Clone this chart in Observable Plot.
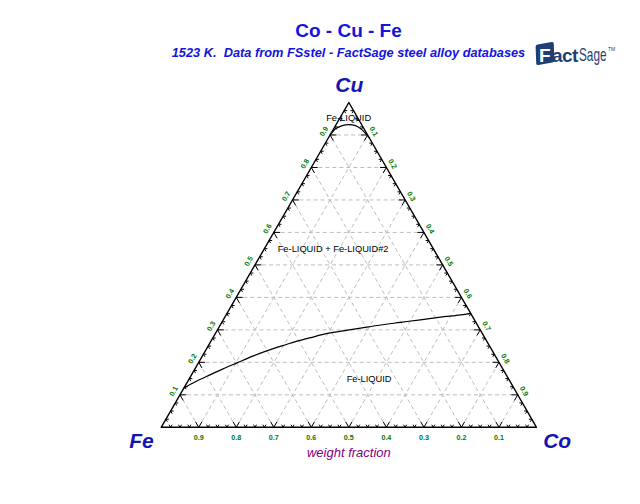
<!DOCTYPE html>
<html>
<head>
<meta charset="utf-8">
<script src="https://cdn.jsdelivr.net/npm/d3@7"></script>
<script src="https://cdn.jsdelivr.net/npm/@observablehq/plot@0.6"></script>
<style>
  html, body { margin: 0; padding: 0; background: #fff; }
  body { width: 640px; height: 504px; overflow: hidden; font-family: Arial, "Liberation Sans", sans-serif; position: relative; }
  #head { position: relative; height: 70px; }
  #title { position: absolute; left: 348.5px; top: 21px; transform: translateX(-50%); white-space: nowrap;
           font: bold 19px/19px Arial, "Liberation Sans", sans-serif; color: #1414e0; }
  #sub { position: absolute; left: 348.5px; top: 47px; transform: translateX(-50%); white-space: pre;
         font: italic bold 12.8px/12px Arial, "Liberation Sans", sans-serif; color: #1414e0; }
  #logo { position: absolute; left: 536px; top: 40px; width: 90px; height: 32px; }
  #logo .sq { position: absolute; left: 0px; top: 3px; width: 18px; height: 21px; background: #1f3f73;
              transform: skewX(-8deg) rotate(-10deg); border-radius: 2px; }
  #logo .f { position: absolute; left: 3px; top: 6px; font: bold 19px/19px Arial, sans-serif; color: #fff; }
  #logo .act { position: absolute; left: 16px; top: 6px; font: bold 19px/19px Arial, sans-serif; color: #1f3f73; letter-spacing: -0.6px; }
  #logo .sage { position: absolute; left: 43px; top: 5px; font: 19px/19px Arial, sans-serif; color: #1f3f73;
                transform: scaleX(0.62); transform-origin: 0 0; }
  #logo .tm { position: absolute; left: 72px; top: 7px; font: 5px/5px Arial, sans-serif; color: #1f3f73; }
</style>
</head>
<body>
<div id="head">
  <div id="title">Co - Cu - Fe</div>
  <div id="sub">1523 K.  Data from FSstel - FactSage steel alloy databases</div>
  <div id="logo"><div class="sq"></div><span class="f">F</span><span class="act">act</span><span class="sage">Sage</span><span class="tm">TM</span></div>
</div>
<div id="chart"></div>
<script>
// ---- data (weight fractions) ----
const components = ["Fe", "Co", "Cu"];
const vertexCo = [0, 1, 0];
const vertexCu = [0, 0, 1];

const majorValues = [0.1, 0.2, 0.3, 0.4, 0.5, 0.6, 0.7, 0.8, 0.9];
const tickLabels = ["0.1", "0.2", "0.3", "0.4", "0.5", "0.6", "0.7", "0.8", "0.9"];
const minorValues = d3.range(1, 40).map(i => i / 40).filter((v, i) => (i + 1) % 4 !== 0);

// lower boundary of the Fe-LIQUID + Fe-LIQUID#2 miscibility gap
const lowerCo = [0.000, 0.021, 0.046, 0.074, 0.104, 0.134, 0.159, 0.185, 0.206, 0.224, 0.260, 0.299, 0.347, 0.386, 0.427, 0.476, 0.525, 0.575, 0.625, 0.649];
const lowerCu = [0.121, 0.140, 0.159, 0.179, 0.199, 0.219, 0.233, 0.246, 0.255, 0.263, 0.276, 0.289, 0.299, 0.307, 0.315, 0.323, 0.331, 0.339, 0.346, 0.351];

// upper boundary (Cu-rich liquid)
const upperCo = [0.000, 0.005, 0.018, 0.034, 0.053, 0.071, 0.092, 0.109];
const upperCu = [0.901, 0.919, 0.929, 0.932, 0.929, 0.920, 0.905, 0.891];

const phaseNames = ["Fe-LIQUID", "Fe-LIQUID + Fe-LIQUID#2", "Fe-LIQUID"];
const phaseCo = [0.023, 0.183, 0.480];
const phaseCu = [0.953, 0.550, 0.148];

// ---- ternary helpers ----
const SQ = Math.sqrt(3) / 2;
const tx = (co, cu) => co + cu / 2;
const ty = (co, cu) => cu * SQ;

const vertices = components.map((name, i) => ({name, x: tx(vertexCo[i], vertexCu[i]), y: ty(vertexCo[i], vertexCu[i])}));
const outline = [vertices[0], vertices[1], vertices[2], vertices[0]];

const grid = [];
for (const v of majorValues) {
  grid.push({x1: tx(0, v), y1: ty(0, v), x2: tx(1 - v, v), y2: ty(1 - v, v)});          // const Cu
  grid.push({x1: tx(v, 0), y1: ty(v, 0), x2: tx(v, 1 - v), y2: ty(v, 1 - v)});          // const Co
  grid.push({x1: tx(1 - v, 0), y1: ty(1 - v, 0), x2: tx(0, 1 - v), y2: ty(0, 1 - v)});  // const Fe
}

function edgeTicks(values, len) {
  const out = [];
  for (const v of values) {
    let px = tx(v, 0), py = ty(v, 0);            // bottom edge (Cu = 0)
    out.push({x1: px, y1: py, x2: px + 0.5 * len, y2: py + SQ * len});
    out.push({x1: px, y1: py, x2: px - 0.5 * len, y2: py + SQ * len});
    px = tx(0, v); py = ty(0, v);                // left edge (Co = 0)
    out.push({x1: px, y1: py, x2: px + len, y2: py});
    out.push({x1: px, y1: py, x2: px + 0.5 * len, y2: py - SQ * len});
    px = tx(v, 1 - v); py = ty(v, 1 - v);        // right edge (Fe = 0)
    out.push({x1: px, y1: py, x2: px - len, y2: py});
    out.push({x1: px, y1: py, x2: px - 0.5 * len, y2: py - SQ * len});
  }
  return out;
}
const ticks = edgeTicks(majorValues, 0.017).concat(edgeTicks(minorValues, 0.008));

const bottomLabels = majorValues.map((fe, i) => ({x: tx(1 - fe, 0), y: 0, t: tickLabels[i]}));
const leftLabels = majorValues.map((cu, i) => ({x: tx(0, cu), y: ty(0, cu), t: tickLabels[i]}));
const rightLabels = majorValues.map((co, i) => ({x: tx(co, 1 - co), y: ty(co, 1 - co), t: tickLabels[i]}));

const lower = lowerCo.map((co, i) => ({x: tx(co, lowerCu[i]), y: ty(co, lowerCu[i])}));
const upper = upperCo.map((co, i) => ({x: tx(co, upperCu[i]), y: ty(co, upperCu[i])}));
const phases = phaseNames.map((n, i) => ({n, x: tx(phaseCo[i], phaseCu[i]), y: ty(phaseCo[i], phaseCu[i])}));

const green = "#007a00";
const cornerColor = "#1515b5";
const font = "Arial, 'Liberation Sans', sans-serif";

const chart = Plot.plot({
  width: 640,
  height: 434,
  marginLeft: 160.7,
  marginRight: 104,
  marginTop: 32,
  marginBottom: 77.2,
  x: {domain: [0, 1], axis: null},
  y: {domain: [0, SQ], axis: null},
  style: {background: "white", fontFamily: font, overflow: "visible"},
  marks: [
    Plot.link(grid, {x1: "x1", y1: "y1", x2: "x2", y2: "y2", stroke: "#bdbdbd", strokeWidth: 1, strokeDasharray: "4,3"}),
    Plot.link(ticks, {x1: "x1", y1: "y1", x2: "x2", y2: "y2", stroke: "black", strokeWidth: 1}),
    Plot.line(outline, {x: "x", y: "y", stroke: "black", strokeWidth: 1.4}),
    Plot.line(lower, {x: "x", y: "y", stroke: "black", strokeWidth: 1.2, curve: "catmull-rom"}),
    Plot.line(upper, {x: "x", y: "y", stroke: "black", strokeWidth: 1.2, curve: "catmull-rom"}),
    Plot.text(bottomLabels, {x: "x", y: "y", text: "t", dy: 10.5, fill: green, fontSize: 7.2, fontWeight: 600}),
    Plot.text(leftLabels, {x: "x", y: "y", text: "t", dx: -6.2, dy: -3.6, rotate: -60, fill: green, fontSize: 7.2, fontWeight: 600}),
    Plot.text(rightLabels, {x: "x", y: "y", text: "t", dx: 6.2, dy: -3.6, rotate: 60, fill: green, fontSize: 7.2, fontWeight: 600}),
    Plot.text(phases, {x: "x", y: "y", text: "n", fill: "black", fontSize: 9.3}),
    Plot.text([vertices[0]], {x: "x", y: "y", text: "name", dx: -19.7, dy: 14, fill: cornerColor, fontSize: 21, fontWeight: "bold", fontStyle: "italic"}),
    Plot.text([vertices[1]], {x: "x", y: "y", text: "name", dx: 20.7, dy: 14, fill: cornerColor, fontSize: 21, fontWeight: "bold", fontStyle: "italic"}),
    Plot.text([vertices[2]], {x: "x", y: "y", text: "name", dx: 0.5, dy: -17, fill: cornerColor, fontSize: 21, fontWeight: "bold", fontStyle: "italic"}),
    Plot.text([{x: 0.5, y: 0, t: "weight fraction"}], {x: "x", y: "y", text: "t", dy: 25.5, fill: "#800080", fontSize: 13, fontStyle: "italic"})
  ]
});
document.getElementById("chart").appendChild(chart);
</script>
</body>
</html>
